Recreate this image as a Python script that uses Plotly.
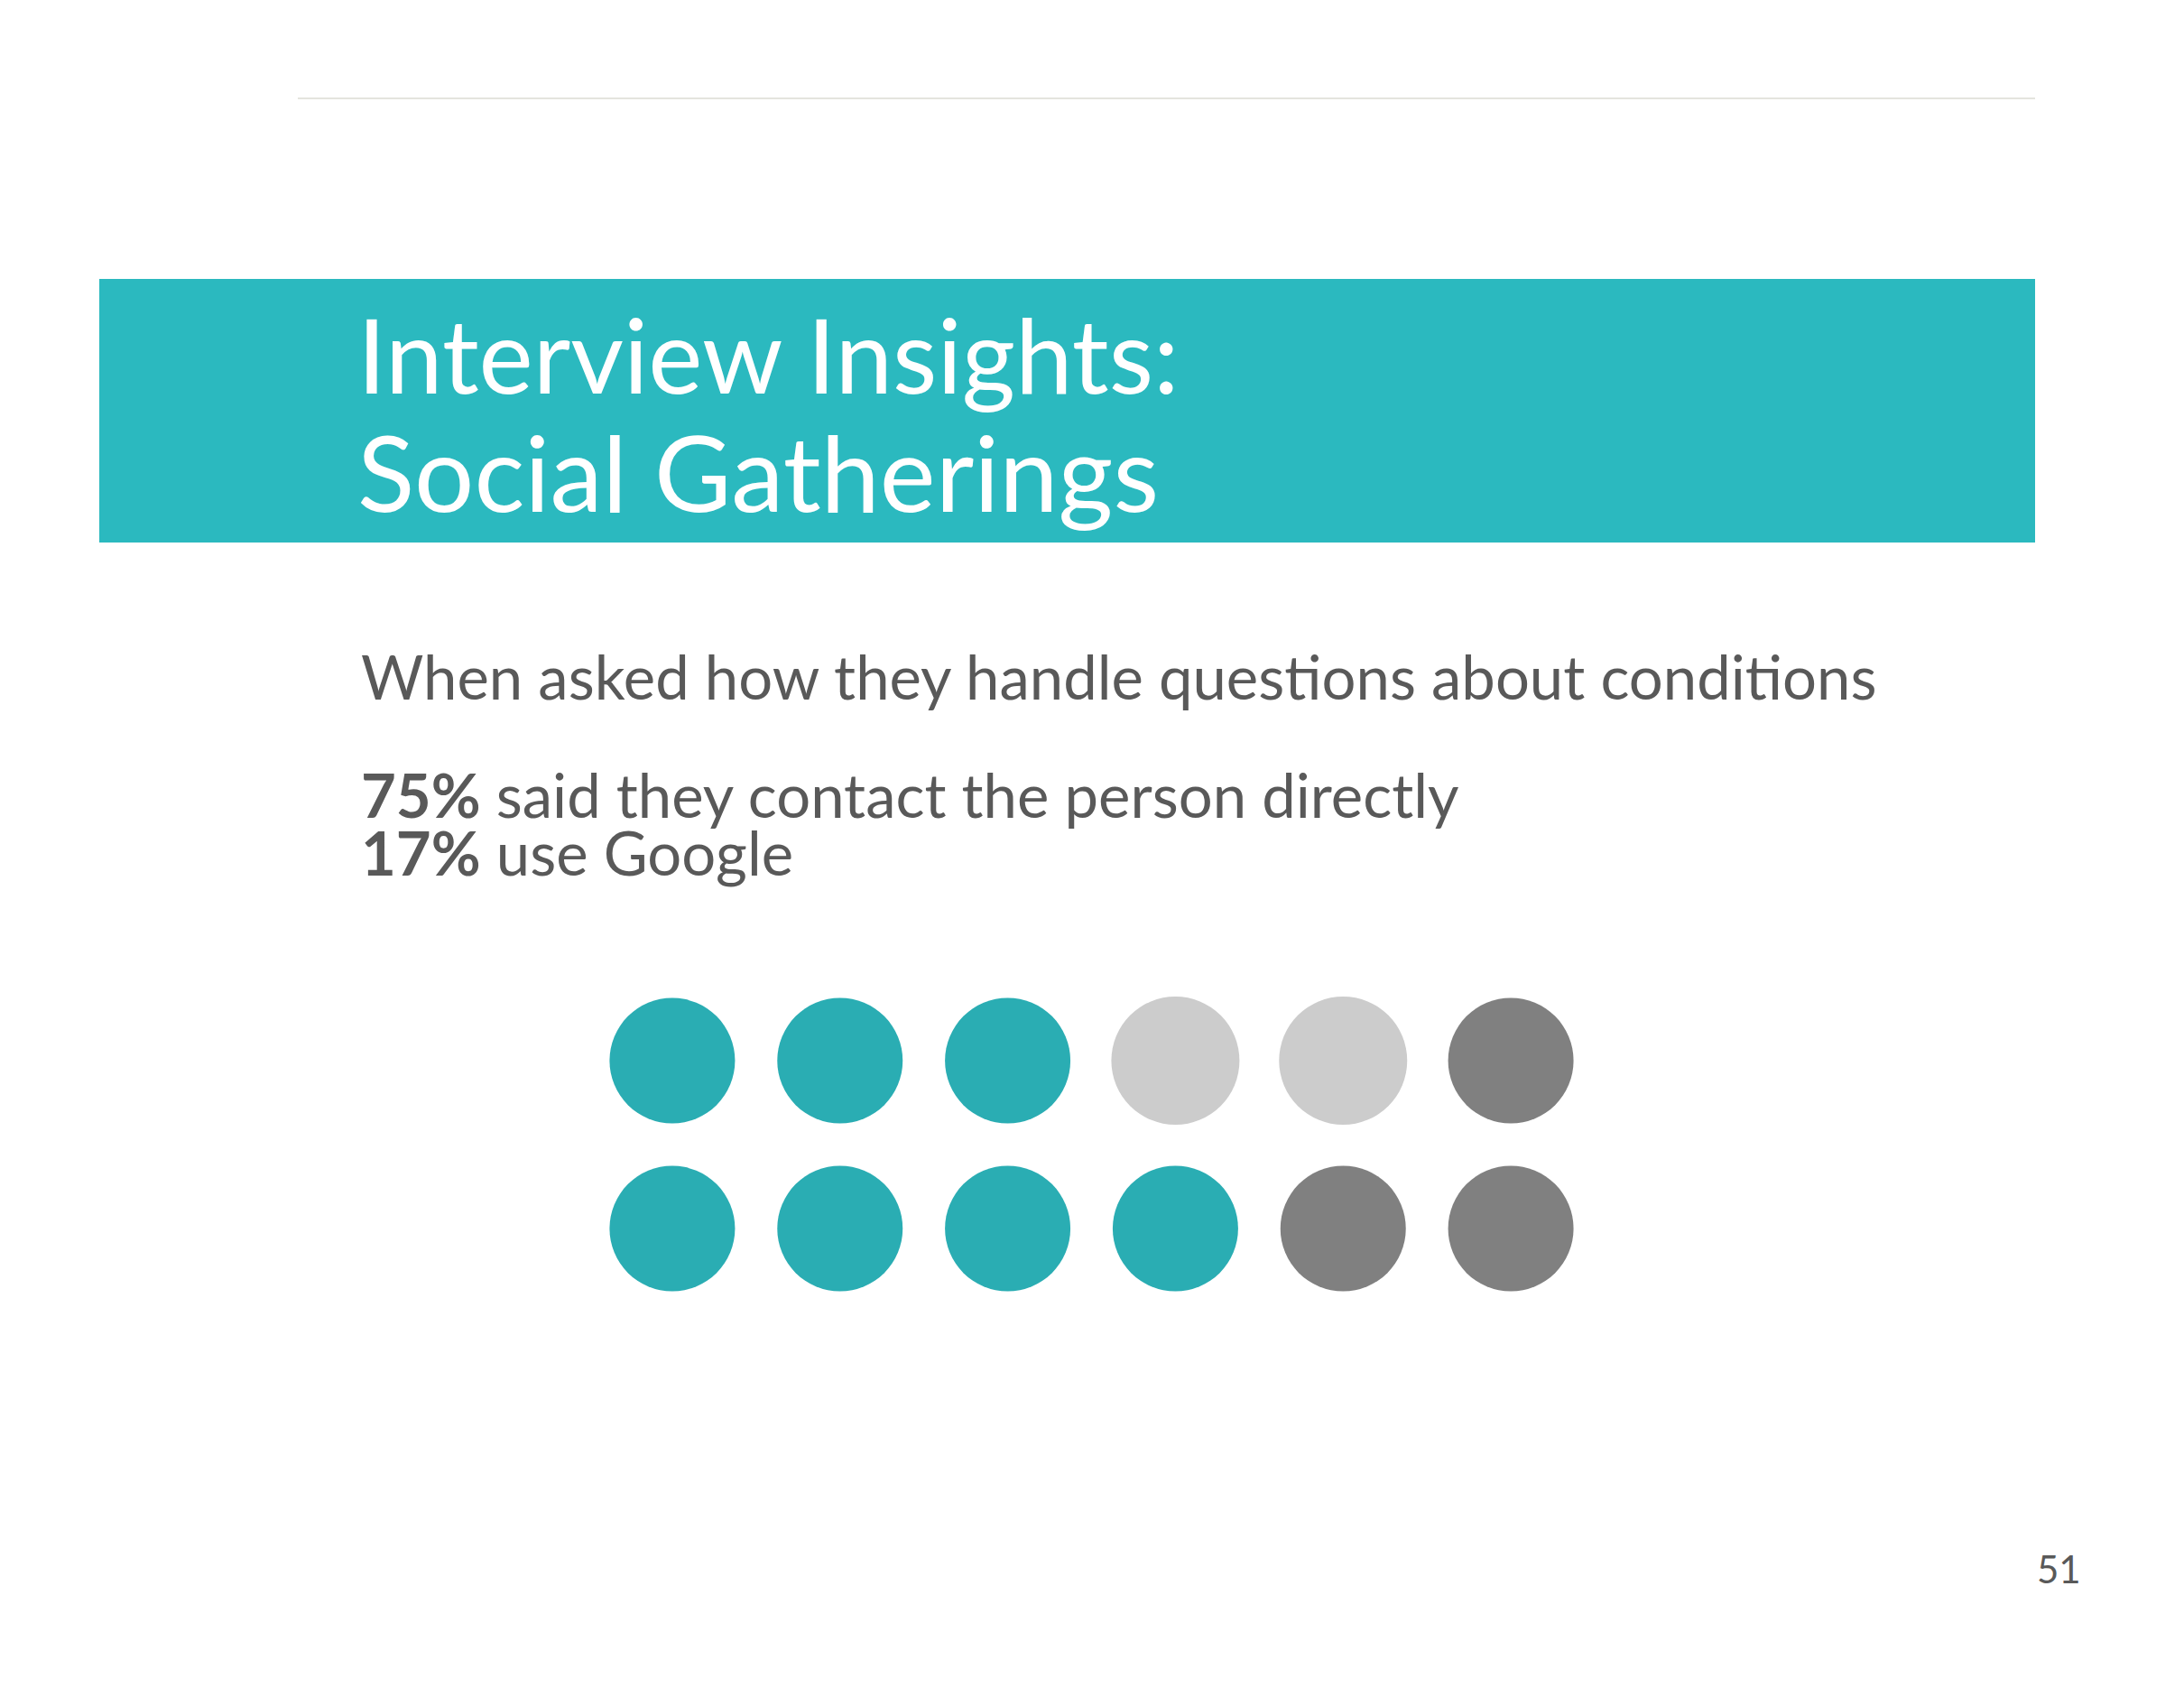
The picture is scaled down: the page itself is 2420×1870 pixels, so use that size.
import plotly.graph_objects as go

W, H = 2420, 1870

# ---- data ----
title_lines = ["Interview Insights:", "Social Gatherings"]
subtitle = "When asked how they handle questions about conditions"
stat_values = ["75%", "17%"]
stat_labels = ["said they contact the person directly", "use Google"]
page_number = "51"

# icon array: 2 rows x 6 columns
row1_groups = ["teal", "teal", "teal", "light", "light", "dark"]
row2_groups = ["teal", "teal", "teal", "teal", "dark", "dark"]
columns = [1, 2, 3, 4, 5, 6]

# ---- styles ----
colors = {"teal": "#2AADB3", "light": "#CCCCCC", "dark": "#808080"}
sizes = {"teal": 139, "light": 142, "dark": 139}
TEXT = "#595959"
BANNER = "#2BB9BF"
FONT = "Lato"


def px(x):
    return x / W


def py(y):
    return 1 - y / H


fig = go.Figure()

for g in ["teal", "light", "dark"]:
    xs, ys = [], []
    for row_idx, row in enumerate([row1_groups, row2_groups], start=1):
        for c, grp in zip(columns, row):
            if grp == g:
                xs.append(c)
                ys.append(row_idx)
    fig.add_trace(go.Scatter(
        x=xs, y=ys, mode="markers",
        marker=dict(size=sizes[g], color=colors[g], line=dict(width=0)),
        hoverinfo="skip", showlegend=False,
    ))

annotations = []
# title (two separate lines to control spacing)
for line, base, size in zip(title_lines, [435, 567], [114, 117]):
    annotations.append(dict(
        text=line, x=px(394), y=py(base - 0.33 * size - 6),
        xref="paper", yref="paper",
        xanchor="left", yanchor="middle", showarrow=False,
        font=dict(family=FONT, size=size, color="white"),
    ))
annotations.append(dict(
    text=subtitle, x=px(398), y=py(771 - 22), xref="paper", yref="paper",
    xanchor="left", yanchor="middle", showarrow=False,
    font=dict(family=FONT, size=67, color=TEXT),
))
for v, lab, base in zip(stat_values, stat_labels, [902, 966]):
    annotations.append(dict(
        text=f"<b>{v}</b> {lab}", x=px(398), y=py(base - 22),
        xref="paper", yref="paper", xanchor="left", yanchor="middle",
        showarrow=False, font=dict(family=FONT, size=67, color=TEXT),
    ))
annotations.append(dict(
    text=page_number, x=px(2255), y=py(1752 - 14), xref="paper", yref="paper",
    xanchor="left", yanchor="middle", showarrow=False,
    font=dict(family=FONT, size=42, color=TEXT),
))

shapes = [
    dict(type="line", xref="paper", yref="paper", x0=px(330), x1=px(2255),
         y0=py(109), y1=py(109), line=dict(color="#E4E4DE", width=2)),
    dict(type="rect", xref="paper", yref="paper", x0=px(110), x1=px(2255),
         y0=py(601), y1=py(309), fillcolor=BANNER, line=dict(width=0),
         layer="below"),
]

fig.update_layout(
    width=W, height=H,
    margin=dict(l=0, r=0, t=0, b=0),
    paper_bgcolor="white", plot_bgcolor="white",
    xaxis=dict(range=[0.5, 6.5], domain=[px(652), px(1767)], visible=False,
               fixedrange=True),
    yaxis=dict(range=[2.5, 0.5], domain=[py(1454), py(1082)], visible=False,
               fixedrange=True),
    annotations=annotations, shapes=shapes,
    showlegend=False,
)

fig.write_html("out.html", config={"displayModeBar": False})
